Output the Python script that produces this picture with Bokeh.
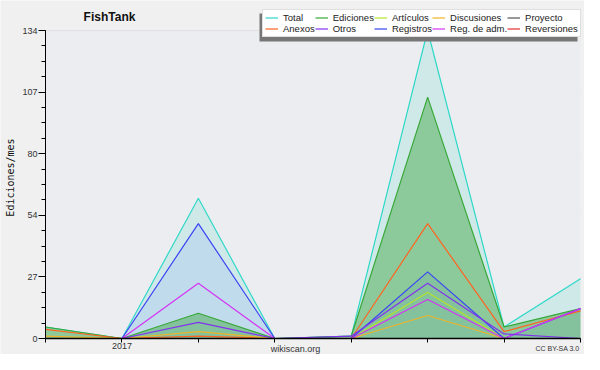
from bokeh.plotting import figure
from bokeh.models import (ColumnDataSource, FixedTicker, Label, Legend, LegendItem,
                          BoxAnnotation, Range1d)
from bokeh.embed import file_html
from bokeh.resources import INLINE
import math

# ---------------- data ----------------
months = ["2016-12", "2017-01", "2017-02", "2017-03", "2017-04", "2017-05", "2017-06", "2017-07"]
month_tick_labels = ["", "2017", "", "", "", "", "", ""]

total       = [5, 0, 61, 0, 1, 134, 5, 26]
ediciones   = [5, 0, 11, 0, 1, 105, 5, 13]
articulos   = [0, 0, 0, 0, 0, 20, 0, 0]
discusiones = [1, 0, 3, 0, 0, 10, 0, 0]
proyecto    = [0, 0, 0, 0, 0, 0, 0, 0]
anexos      = [4, 0, 1, 0, 0, 50, 3, 12]
otros       = [0, 0, 7, 0, 1, 24, 2, 0]
registros   = [0, 0, 50, 0, 0, 29, 0, 13]
reg_adm     = [0, 0, 24, 0, 0, 17, 0, 13]
reversiones = [0, 0, 0, 0, 0, 0, 0, 0]

y_tick_values = [0, 26.8, 53.6, 80.4, 107.2, 134]
y_tick_labels = ["0", "27", "54", "80", "107", "134"]
y_minor_ticks = [6.7 * i for i in range(21)]
y_max = 134

series_names = ["Total", "Ediciones", "Artículos", "Discusiones", "Proyecto",
                "Anexos", "Otros", "Registros", "Reg. de adm.", "Reversiones"]

# ---------------- layout (pixels) ----------------
W, H = 584, 354
PL, PR, PT, PB = 45, 580, 30, 338          # data area in canvas pixels
x_lo, x_hi = 0, len(months) - 1
sx = (PR - PL) / (x_hi - x_lo)
sy = (PB - PT) / y_max
x_range = Range1d(x_lo - PL / sx, x_hi + (W - PR) / sx)
y_range = Range1d(0 - (H - PB) / sy, y_max + PT / sy)

x_idx = list(range(len(months)))
src = ColumnDataSource(dict(x=x_idx, total=total, ediciones=ediciones, articulos=articulos,
                            discusiones=discusiones, proyecto=proyecto, anexos=anexos,
                            otros=otros, registros=registros, reg_adm=reg_adm,
                            reversiones=reversiones, zero=[0] * len(months)))

p = figure(width=W, height=H, output_backend="svg", toolbar_location=None,
           x_range=x_range, y_range=y_range,
           min_border=0, min_border_left=0, min_border_right=0,
           min_border_top=0, min_border_bottom=0)
p.background_fill_color = "#f0f0f0"
p.border_fill_color = "#f0f0f0"
p.outline_line_color = None
p.xgrid.visible = False
p.ygrid.visible = False

# data-area background
p.add_layout(BoxAnnotation(left=x_lo, right=x_hi, bottom=0, top=y_max,
                           fill_color="#ecedf0", fill_alpha=1, line_color=None,
                           level="underlay"))

# horizontal grid lines at the y ticks
grid_y = y_tick_values[1:]
p.segment(x0=[x_lo] * len(grid_y), x1=[x_hi] * len(grid_y), y0=grid_y, y1=grid_y,
          line_color="#d2d2d2", line_width=1, level="underlay")

# axes
p.yaxis.fixed_location = x_lo
p.yaxis.bounds = (0, y_max)
p.yaxis.ticker = FixedTicker(ticks=y_tick_values, minor_ticks=y_minor_ticks)
p.yaxis.major_label_overrides = {v: l for v, l in zip(y_tick_values, y_tick_labels)}
p.yaxis.major_tick_out = 7
p.yaxis.major_tick_in = 0
p.yaxis.minor_tick_out = 4
p.yaxis.minor_tick_in = 0
p.yaxis.major_label_standoff = 1
p.yaxis.axis_line_color = "black"
p.yaxis.major_tick_line_color = "black"
p.yaxis.minor_tick_line_color = "black"

p.xaxis.fixed_location = 0
p.xaxis.bounds = (x_lo, x_hi)
p.xaxis.ticker = FixedTicker(ticks=x_idx, minor_ticks=[])
p.xaxis.major_label_overrides = {i: l for i, l in zip(x_idx, month_tick_labels)}
p.xaxis.major_tick_out = 4
p.xaxis.major_tick_in = 0
p.xaxis.minor_tick_out = 0
p.xaxis.major_label_standoff = 0
p.xaxis.axis_line_color = "black"
p.xaxis.axis_line_width = 1.5
p.xaxis.major_tick_line_color = "black"

for ax in (p.xaxis[0], p.yaxis[0]):
    ax.major_label_text_font = "Liberation Sans"
    ax.major_label_text_font_size = "9px"
    ax.major_label_text_color = "#333333"

# fills
p.varea(x="x", y1="zero", y2="total", source=src, fill_color="#30d4c0", fill_alpha=0.15)
p.varea(x="x", y1="zero", y2="registros", source=src, fill_color="#4060ff", fill_alpha=0.1)
p.varea(x="x", y1="zero", y2="ediciones", source=src, fill_color="#30a030", fill_alpha=0.42)

colors = {
    "proyecto": "#555555",
    "reversiones": "#e83030",
    "total": "#30d8c8",
    "ediciones": "#38a838",
    "anexos": "#ff6420",
    "discusiones": "#f0b428",
    "articulos": "#b4e42c",
    "registros": "#3a44f4",
    "reg_adm": "#d434f4",
    "otros": "#8232ee",
}
draw_order = ["proyecto", "reversiones", "total", "ediciones", "anexos", "discusiones",
              "articulos", "registros", "reg_adm", "otros"]
rend = {}
for key in draw_order:
    rend[key] = p.line(x="x", y=key, source=src, line_color=colors[key], line_width=1.2)

legend_keys = ["total", "ediciones", "articulos", "discusiones", "proyecto",
               "anexos", "otros", "registros", "reg_adm", "reversiones"]

LG_L, LG_B = 262, 37      # legend box left / bottom in canvas pixels
# legend shadow (screen units measured from the canvas bottom-left)
p.add_layout(BoxAnnotation(left=LG_L - 3, right=LG_L + 315, bottom=H - (LG_B + 4),
                           top=H - 13,
                           left_units="screen", right_units="screen",
                           bottom_units="screen", top_units="screen",
                           fill_color="#777777", fill_alpha=1, line_color=None))

items = [LegendItem(label=n, renderers=[rend[k]]) for n, k in zip(series_names, legend_keys)]
legend = Legend(items=items, location=(LG_L, H - LG_B), orientation="horizontal", ncols=5,
                label_text_font="Liberation Sans", label_text_font_size="9.5px",
                label_text_color="#222222",
                glyph_width=13, glyph_height=9, label_height=9, label_standoff=5,
                spacing=0, padding=2, margin=0,
                background_fill_color="white", background_fill_alpha=1,
                border_line_color="#c0c0c0", border_line_width=1)
p.add_layout(legend, "center")

# texts
p.add_layout(Label(x=109, y=H - 16, x_units="screen", y_units="screen", text="FishTank",
                   text_font="Liberation Sans", text_font_style="bold", text_font_size="12px",
                   text_align="center", text_baseline="middle", text_color="#111111"))
p.add_layout(Label(x=10, y=H - 177, x_units="screen", y_units="screen", text="Ediciones/mes",
                   angle=math.pi / 2, text_font="DejaVu Sans Mono", text_font_size="10px",
                   text_align="center", text_baseline="middle", text_color="#111111"))
p.add_layout(Label(x=295, y=H - 348, x_units="screen", y_units="screen", text="wikiscan.org",
                   text_font="Liberation Sans", text_font_size="9px",
                   text_align="center", text_baseline="middle", text_color="#333333"))
p.add_layout(Label(x=579, y=H - 348, x_units="screen", y_units="screen", text="CC BY-SA 3.0",
                   text_font="Liberation Sans", text_font_size="7px",
                   text_align="right", text_baseline="middle", text_color="#333333"))

open("out.html", "w").write(file_html(p, INLINE))
